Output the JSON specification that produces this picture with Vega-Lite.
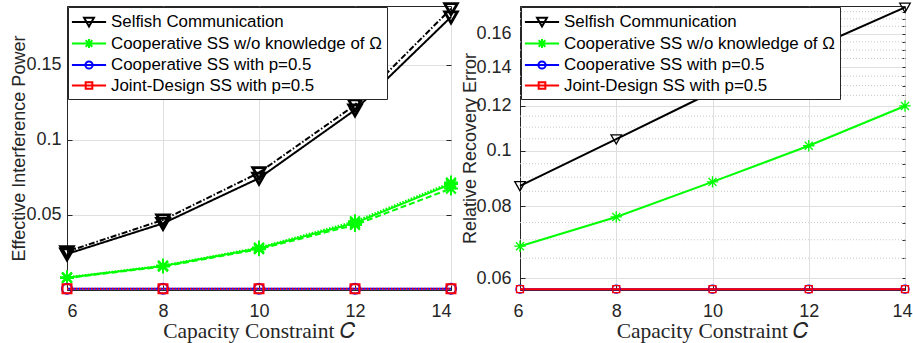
{
  "$schema": "https://vega.github.io/schema/vega-lite/v6.json",
  "background": "white",
  "padding": {"left": 10, "top": -3, "right": 0, "bottom": 0},
  "spacing": 69,
  "bounds": "flush",
  "config": {
    "font": "Liberation Sans",
    "view": {"stroke": "#262626", "strokeWidth": 1},
    "axis": {
      "domainColor": "#262626",
      "tickColor": "#262626",
      "labelColor": "#262626",
      "titleColor": "#262626",
      "gridColor": "#dfdfdf",
      "labelFont": "Liberation Sans",
      "labelFontSize": 18,
      "titleFont": "Liberation Sans",
      "titleFontSize": 18,
      "titleFontWeight": "normal",
      "tickSize": -5,
      "labelPadding": 9
    },
    "legend": {
      "title": null, "orient": "top-left", "offset": 1, "padding": 5,
      "symbolSize": 324, "symbolStrokeWidth": 2, "symbolOffset": 6, "symbolOpacity": 1,
      "symbolFillColor": "transparent",
      "labelOffset": 12, "labelFont": "Liberation Sans", "labelFontSize": 16.9,
      "labelColor": "#000000", "labelLimit": 400, "rowPadding": 2.5,
      "strokeColor": "#262626", "fillColor": "#ffffff"
    }
  },
  "datasets": {
    "interference": [
      {"C": 6, "value": 0.0240, "scheme": "Selfish Communication", "variant": "solid"},
      {"C": 8, "value": 0.0444, "scheme": "Selfish Communication", "variant": "solid"},
      {"C": 10, "value": 0.0745, "scheme": "Selfish Communication", "variant": "solid"},
      {"C": 12, "value": 0.1200, "scheme": "Selfish Communication", "variant": "solid"},
      {"C": 14, "value": 0.1820, "scheme": "Selfish Communication", "variant": "solid"},
      {"C": 6, "value": 0.0256, "scheme": "Selfish Communication", "variant": "dashdot"},
      {"C": 8, "value": 0.0467, "scheme": "Selfish Communication", "variant": "dashdot"},
      {"C": 10, "value": 0.0782, "scheme": "Selfish Communication", "variant": "dashdot"},
      {"C": 12, "value": 0.1233, "scheme": "Selfish Communication", "variant": "dashdot"},
      {"C": 14, "value": 0.1875, "scheme": "Selfish Communication", "variant": "dashdot"},
      {"C": 6, "value": 0.0085, "scheme": "Cooperative SS w/o knowledge of Ω", "variant": "dotted"},
      {"C": 8, "value": 0.0163, "scheme": "Cooperative SS w/o knowledge of Ω", "variant": "dotted"},
      {"C": 10, "value": 0.0283, "scheme": "Cooperative SS w/o knowledge of Ω", "variant": "dotted"},
      {"C": 12, "value": 0.0458, "scheme": "Cooperative SS w/o knowledge of Ω", "variant": "dotted"},
      {"C": 14, "value": 0.0716, "scheme": "Cooperative SS w/o knowledge of Ω", "variant": "dotted"},
      {"C": 6, "value": 0.0082, "scheme": "Cooperative SS w/o knowledge of Ω", "variant": "solid"},
      {"C": 8, "value": 0.0160, "scheme": "Cooperative SS w/o knowledge of Ω", "variant": "solid"},
      {"C": 10, "value": 0.0278, "scheme": "Cooperative SS w/o knowledge of Ω", "variant": "solid"},
      {"C": 12, "value": 0.0447, "scheme": "Cooperative SS w/o knowledge of Ω", "variant": "solid"},
      {"C": 14, "value": 0.0706, "scheme": "Cooperative SS w/o knowledge of Ω", "variant": "solid"},
      {"C": 6, "value": 0.0080, "scheme": "Cooperative SS w/o knowledge of Ω", "variant": "dashed"},
      {"C": 8, "value": 0.0156, "scheme": "Cooperative SS w/o knowledge of Ω", "variant": "dashed"},
      {"C": 10, "value": 0.0272, "scheme": "Cooperative SS w/o knowledge of Ω", "variant": "dashed"},
      {"C": 12, "value": 0.0434, "scheme": "Cooperative SS w/o knowledge of Ω", "variant": "dashed"},
      {"C": 14, "value": 0.0676, "scheme": "Cooperative SS w/o knowledge of Ω", "variant": "dashed"},
      {"C": 6, "value": 0.0008, "scheme": "Cooperative SS with p=0.5", "variant": "solid"},
      {"C": 8, "value": 0.0008, "scheme": "Cooperative SS with p=0.5", "variant": "solid"},
      {"C": 10, "value": 0.0008, "scheme": "Cooperative SS with p=0.5", "variant": "solid"},
      {"C": 12, "value": 0.0008, "scheme": "Cooperative SS with p=0.5", "variant": "solid"},
      {"C": 14, "value": 0.0008, "scheme": "Cooperative SS with p=0.5", "variant": "solid"},
      {"C": 6, "value": 0.0008, "scheme": "Joint-Design SS with p=0.5", "variant": "dotted"},
      {"C": 8, "value": 0.0008, "scheme": "Joint-Design SS with p=0.5", "variant": "dotted"},
      {"C": 10, "value": 0.0008, "scheme": "Joint-Design SS with p=0.5", "variant": "dotted"},
      {"C": 12, "value": 0.0008, "scheme": "Joint-Design SS with p=0.5", "variant": "dotted"},
      {"C": 14, "value": 0.0008, "scheme": "Joint-Design SS with p=0.5", "variant": "dotted"}
    ],
    "recovery": [
      {"C": 6, "value": 0.0869, "scheme": "Selfish Communication"},
      {"C": 8, "value": 0.1049, "scheme": "Selfish Communication"},
      {"C": 10, "value": 0.1267, "scheme": "Selfish Communication"},
      {"C": 12, "value": 0.1500, "scheme": "Selfish Communication"},
      {"C": 14, "value": 0.1780, "scheme": "Selfish Communication"},
      {"C": 6, "value": 0.0682, "scheme": "Cooperative SS w/o knowledge of Ω"},
      {"C": 8, "value": 0.0767, "scheme": "Cooperative SS w/o knowledge of Ω"},
      {"C": 10, "value": 0.0883, "scheme": "Cooperative SS w/o knowledge of Ω"},
      {"C": 12, "value": 0.1021, "scheme": "Cooperative SS w/o knowledge of Ω"},
      {"C": 14, "value": 0.1198, "scheme": "Cooperative SS w/o knowledge of Ω"},
      {"C": 6, "value": 0.0574, "scheme": "Cooperative SS with p=0.5"},
      {"C": 8, "value": 0.0574, "scheme": "Cooperative SS with p=0.5"},
      {"C": 10, "value": 0.0574, "scheme": "Cooperative SS with p=0.5"},
      {"C": 12, "value": 0.0574, "scheme": "Cooperative SS with p=0.5"},
      {"C": 14, "value": 0.0574, "scheme": "Cooperative SS with p=0.5"},
      {"C": 6, "value": 0.0574, "scheme": "Joint-Design SS with p=0.5"},
      {"C": 8, "value": 0.0574, "scheme": "Joint-Design SS with p=0.5"},
      {"C": 10, "value": 0.0574, "scheme": "Joint-Design SS with p=0.5"},
      {"C": 12, "value": 0.0574, "scheme": "Joint-Design SS with p=0.5"},
      {"C": 14, "value": 0.0574, "scheme": "Joint-Design SS with p=0.5"}
    ],
    "minorGrid": [
      {"v": 0.065}, {"v": 0.07}, {"v": 0.075}, {"v": 0.085}, {"v": 0.09}, {"v": 0.095},
      {"v": 0.105}, {"v": 0.11}, {"v": 0.115}, {"v": 0.125}, {"v": 0.13}, {"v": 0.135},
      {"v": 0.145}, {"v": 0.15}, {"v": 0.155}, {"v": 0.165}, {"v": 0.17}, {"v": 0.175}
    ]
  },
  "resolve": {
    "scale": {"color": "independent", "shape": "independent", "strokeDash": "independent"},
    "legend": {"color": "independent", "shape": "independent"}
  },
  "hconcat": [
    {
      "width": 384,
      "height": 284,
      "data": {"name": "interference"},
      "resolve": {"axis": {"x": "independent", "y": "independent"}},
      "layer": [
        {
          "mark": {"type": "line", "strokeWidth": 2},
          "encoding": {
            "x": {
              "field": "C", "type": "quantitative",
              "scale": {"domain": [6, 14], "nice": false, "zero": false},
              "axis": {
                "values": [6, 8, 10, 12, 14], "grid": true, "labelPadding": 17.5,
                "title": "Capacity Constraint 𝐶", "titleFont": "Liberation Serif",
                "titleFontSize": 21.5, "titlePadding": 0
              }
            },
            "y": {
              "field": "value", "type": "quantitative",
              "scale": {"domain": [0, 0.1893], "nice": false, "zero": false},
              "axis": {
                "values": [0.05, 0.1, 0.15], "format": "~g", "grid": true,
                "labelPadding": 11, "title": "Effective Interference Power", "titlePadding": -3
              }
            },
            "color": {
              "field": "scheme", "type": "nominal",
              "scale": {
                "domain": ["Selfish Communication", "Cooperative SS w/o knowledge of Ω", "Cooperative SS with p=0.5", "Joint-Design SS with p=0.5"],
                "range": ["#000000", "#00ff00", "#0000ff", "#ff0000"]
              }
            },
            "strokeDash": {
              "field": "variant", "type": "nominal",
              "scale": {"domain": ["solid", "dashed", "dashdot", "dotted"], "range": [[1, 0], [6, 3], [6, 2, 1.5, 2], [1.5, 1.5]]},
              "legend": null
            }
          }
        },
        {
          "transform": [{"filter": {"field": "scheme", "equal": "Selfish Communication"}}],
          "mark": {"type": "point", "shape": "M-1,-0.8H1L0,0.95Z", "size": 160, "filled": false, "strokeWidth": 2.8, "color": "#000000", "opacity": 1},
          "encoding": {
            "x": {
              "field": "C", "type": "quantitative",
              "scale": {"domain": [6, 14], "nice": false, "zero": false},
              "axis": {"orient": "top", "values": [6, 8, 10, 12, 14], "labels": false, "title": null, "grid": false, "domain": false}
            },
            "y": {
              "field": "value", "type": "quantitative",
              "scale": {"domain": [0, 0.1893], "nice": false, "zero": false},
              "axis": {"orient": "right", "values": [0.05, 0.1, 0.15], "labels": false, "title": null, "grid": false, "domain": false}
            }
          }
        },
        {
          "transform": [{"filter": {"field": "scheme", "equal": "Cooperative SS w/o knowledge of Ω"}}],
          "mark": {"type": "point", "shape": "M-1,0H1M0,-1V1M-0.7,-0.7L0.7,0.7M-0.7,0.7L0.7,-0.7", "size": 196, "filled": false, "strokeWidth": 2, "color": "#00ff00", "opacity": 1},
          "encoding": {
            "x": {"field": "C", "type": "quantitative", "axis": null},
            "y": {"field": "value", "type": "quantitative", "axis": null}
          }
        },
        {
          "transform": [{"filter": {"field": "scheme", "equal": "Cooperative SS with p=0.5"}}],
          "mark": {"type": "point", "shape": "circle", "size": 100, "filled": false, "strokeWidth": 2, "color": "#0000ff", "opacity": 1},
          "encoding": {
            "x": {"field": "C", "type": "quantitative", "axis": null},
            "y": {"field": "value", "type": "quantitative", "axis": null}
          }
        },
        {
          "transform": [{"filter": {"field": "scheme", "equal": "Joint-Design SS with p=0.5"}}],
          "mark": {"type": "point", "shape": "square", "size": 81, "filled": false, "strokeWidth": 2, "color": "#ff0000", "opacity": 1},
          "encoding": {
            "x": {"field": "C", "type": "quantitative", "axis": null},
            "y": {"field": "value", "type": "quantitative", "axis": null}
          }
        },
        {
          "mark": {"type": "point", "filled": false, "strokeWidth": 2, "opacity": 0},
          "encoding": {
            "x": {"field": "C", "type": "quantitative", "axis": null},
            "y": {"field": "value", "type": "quantitative", "axis": null},
            "color": {
              "field": "scheme", "type": "nominal",
              "scale": {
                "domain": ["Selfish Communication", "Cooperative SS w/o knowledge of Ω", "Cooperative SS with p=0.5", "Joint-Design SS with p=0.5"],
                "range": ["#000000", "#00ff00", "#0000ff", "#ff0000"]
              }
            },
            "shape": {
              "field": "scheme", "type": "nominal",
              "scale": {
                "domain": ["Selfish Communication", "Cooperative SS w/o knowledge of Ω", "Cooperative SS with p=0.5", "Joint-Design SS with p=0.5"],
                "range": [
                  "M-1.9,0H1.9M-0.55,-0.46H0.55L0,0.51Z",
                  "M-1.9,0H1.9M-0.51,0H0.51M0,-0.51V0.51M-0.37,-0.37L0.37,0.37M-0.37,0.37L0.37,-0.37",
                  "M-1.9,0H1.9M-0.4,0A0.4,0.4,0,1,0,0.4,0A0.4,0.4,0,1,0,-0.4,0Z",
                  "M-1.9,0H1.9M-0.37,-0.37H0.37V0.37H-0.37Z"
                ]
              }
            }
          }
        }
      ]
    },
    {
      "width": 385,
      "height": 284,
      "data": {"name": "recovery"},
      "resolve": {"axis": {"x": "independent", "y": "independent"}},
      "layer": [
        {
          "data": {"name": "minorGrid"},
          "mark": {"type": "rule", "color": "#c9c9c9", "strokeDash": [1, 2], "strokeWidth": 1},
          "encoding": {
            "y": {
              "field": "v", "type": "quantitative",
              "scale": {"type": "log", "domain": [0.0572, 0.179], "nice": false},
              "axis": null
            }
          }
        },
        {
          "mark": {"type": "line", "strokeWidth": 2},
          "encoding": {
            "x": {
              "field": "C", "type": "quantitative",
              "scale": {"domain": [6, 14], "nice": false, "zero": false},
              "axis": {
                "values": [6, 8, 10, 12, 14], "grid": true, "labelPadding": 17.5,
                "labelFlush": true, "labelFlushOffset": 7,
                "title": "Capacity Constraint 𝐶", "titleFont": "Liberation Serif",
                "titleFontSize": 21.5, "titlePadding": 0
              }
            },
            "y": {
              "field": "value", "type": "quantitative",
              "scale": {"type": "log", "domain": [0.0572, 0.179], "nice": false},
              "axis": {
                "values": [0.06, 0.08, 0.1, 0.12, 0.14, 0.16], "format": "~g", "grid": true,
                "labelPadding": 14, "title": "Relative Recovery Error", "titlePadding": -4
              }
            },
            "color": {
              "field": "scheme", "type": "nominal",
              "scale": {
                "domain": ["Selfish Communication", "Cooperative SS w/o knowledge of Ω", "Cooperative SS with p=0.5", "Joint-Design SS with p=0.5"],
                "range": ["#000000", "#00ff00", "#0000ff", "#ff0000"]
              }
            }
          }
        },
        {
          "transform": [{"filter": {"field": "scheme", "equal": "Selfish Communication"}}],
          "mark": {"type": "point", "shape": "M-1,-0.8H1L0,0.95Z", "size": 110, "filled": false, "strokeWidth": 1.3, "color": "#000000", "opacity": 1},
          "encoding": {
            "x": {
              "field": "C", "type": "quantitative",
              "scale": {"domain": [6, 14], "nice": false, "zero": false},
              "axis": {"orient": "top", "values": [6, 8, 10, 12, 14], "labels": false, "title": null, "grid": false, "domain": false}
            },
            "y": {
              "field": "value", "type": "quantitative",
              "scale": {"type": "log", "domain": [0.0572, 0.179], "nice": false},
              "axis": {
                "orient": "right",
                "values": [0.06, 0.065, 0.07, 0.075, 0.08, 0.085, 0.09, 0.095, 0.1, 0.105, 0.11, 0.115, 0.12, 0.125, 0.13, 0.135, 0.14, 0.145, 0.15, 0.155, 0.16, 0.165, 0.17, 0.175],
                "tickSize": -3, "labels": false, "title": null, "grid": false, "domain": false
              }
            }
          }
        },
        {
          "transform": [{"filter": {"field": "scheme", "equal": "Cooperative SS w/o knowledge of Ω"}}],
          "mark": {"type": "point", "shape": "M-1,0H1M0,-1V1M-0.7,-0.7L0.7,0.7M-0.7,0.7L0.7,-0.7", "size": 130, "filled": false, "strokeWidth": 1.3, "color": "#00ff00", "opacity": 1},
          "encoding": {
            "x": {"field": "C", "type": "quantitative", "axis": null},
            "y": {"field": "value", "type": "quantitative", "axis": null}
          }
        },
        {
          "transform": [{"filter": {"field": "scheme", "equal": "Cooperative SS with p=0.5"}}],
          "mark": {"type": "point", "shape": "circle", "size": 64, "filled": false, "strokeWidth": 1.3, "color": "#0000ff", "opacity": 1},
          "encoding": {
            "x": {"field": "C", "type": "quantitative", "axis": null},
            "y": {"field": "value", "type": "quantitative", "axis": null}
          }
        },
        {
          "transform": [{"filter": {"field": "scheme", "equal": "Joint-Design SS with p=0.5"}}],
          "mark": {"type": "point", "shape": "square", "size": 49, "filled": false, "strokeWidth": 1.3, "color": "#ff0000", "opacity": 1},
          "encoding": {
            "x": {"field": "C", "type": "quantitative", "axis": null},
            "y": {"field": "value", "type": "quantitative", "axis": null}
          }
        },
        {
          "mark": {"type": "point", "filled": false, "strokeWidth": 2, "opacity": 0},
          "encoding": {
            "x": {"field": "C", "type": "quantitative", "axis": null},
            "y": {"field": "value", "type": "quantitative", "axis": null},
            "color": {
              "field": "scheme", "type": "nominal",
              "scale": {
                "domain": ["Selfish Communication", "Cooperative SS w/o knowledge of Ω", "Cooperative SS with p=0.5", "Joint-Design SS with p=0.5"],
                "range": ["#000000", "#00ff00", "#0000ff", "#ff0000"]
              }
            },
            "shape": {
              "field": "scheme", "type": "nominal",
              "scale": {
                "domain": ["Selfish Communication", "Cooperative SS w/o knowledge of Ω", "Cooperative SS with p=0.5", "Joint-Design SS with p=0.5"],
                "range": [
                  "M-1.9,0H1.9M-0.55,-0.46H0.55L0,0.51Z",
                  "M-1.9,0H1.9M-0.51,0H0.51M0,-0.51V0.51M-0.37,-0.37L0.37,0.37M-0.37,0.37L0.37,-0.37",
                  "M-1.9,0H1.9M-0.4,0A0.4,0.4,0,1,0,0.4,0A0.4,0.4,0,1,0,-0.4,0Z",
                  "M-1.9,0H1.9M-0.37,-0.37H0.37V0.37H-0.37Z"
                ]
              }
            }
          }
        }
      ]
    }
  ]
}
